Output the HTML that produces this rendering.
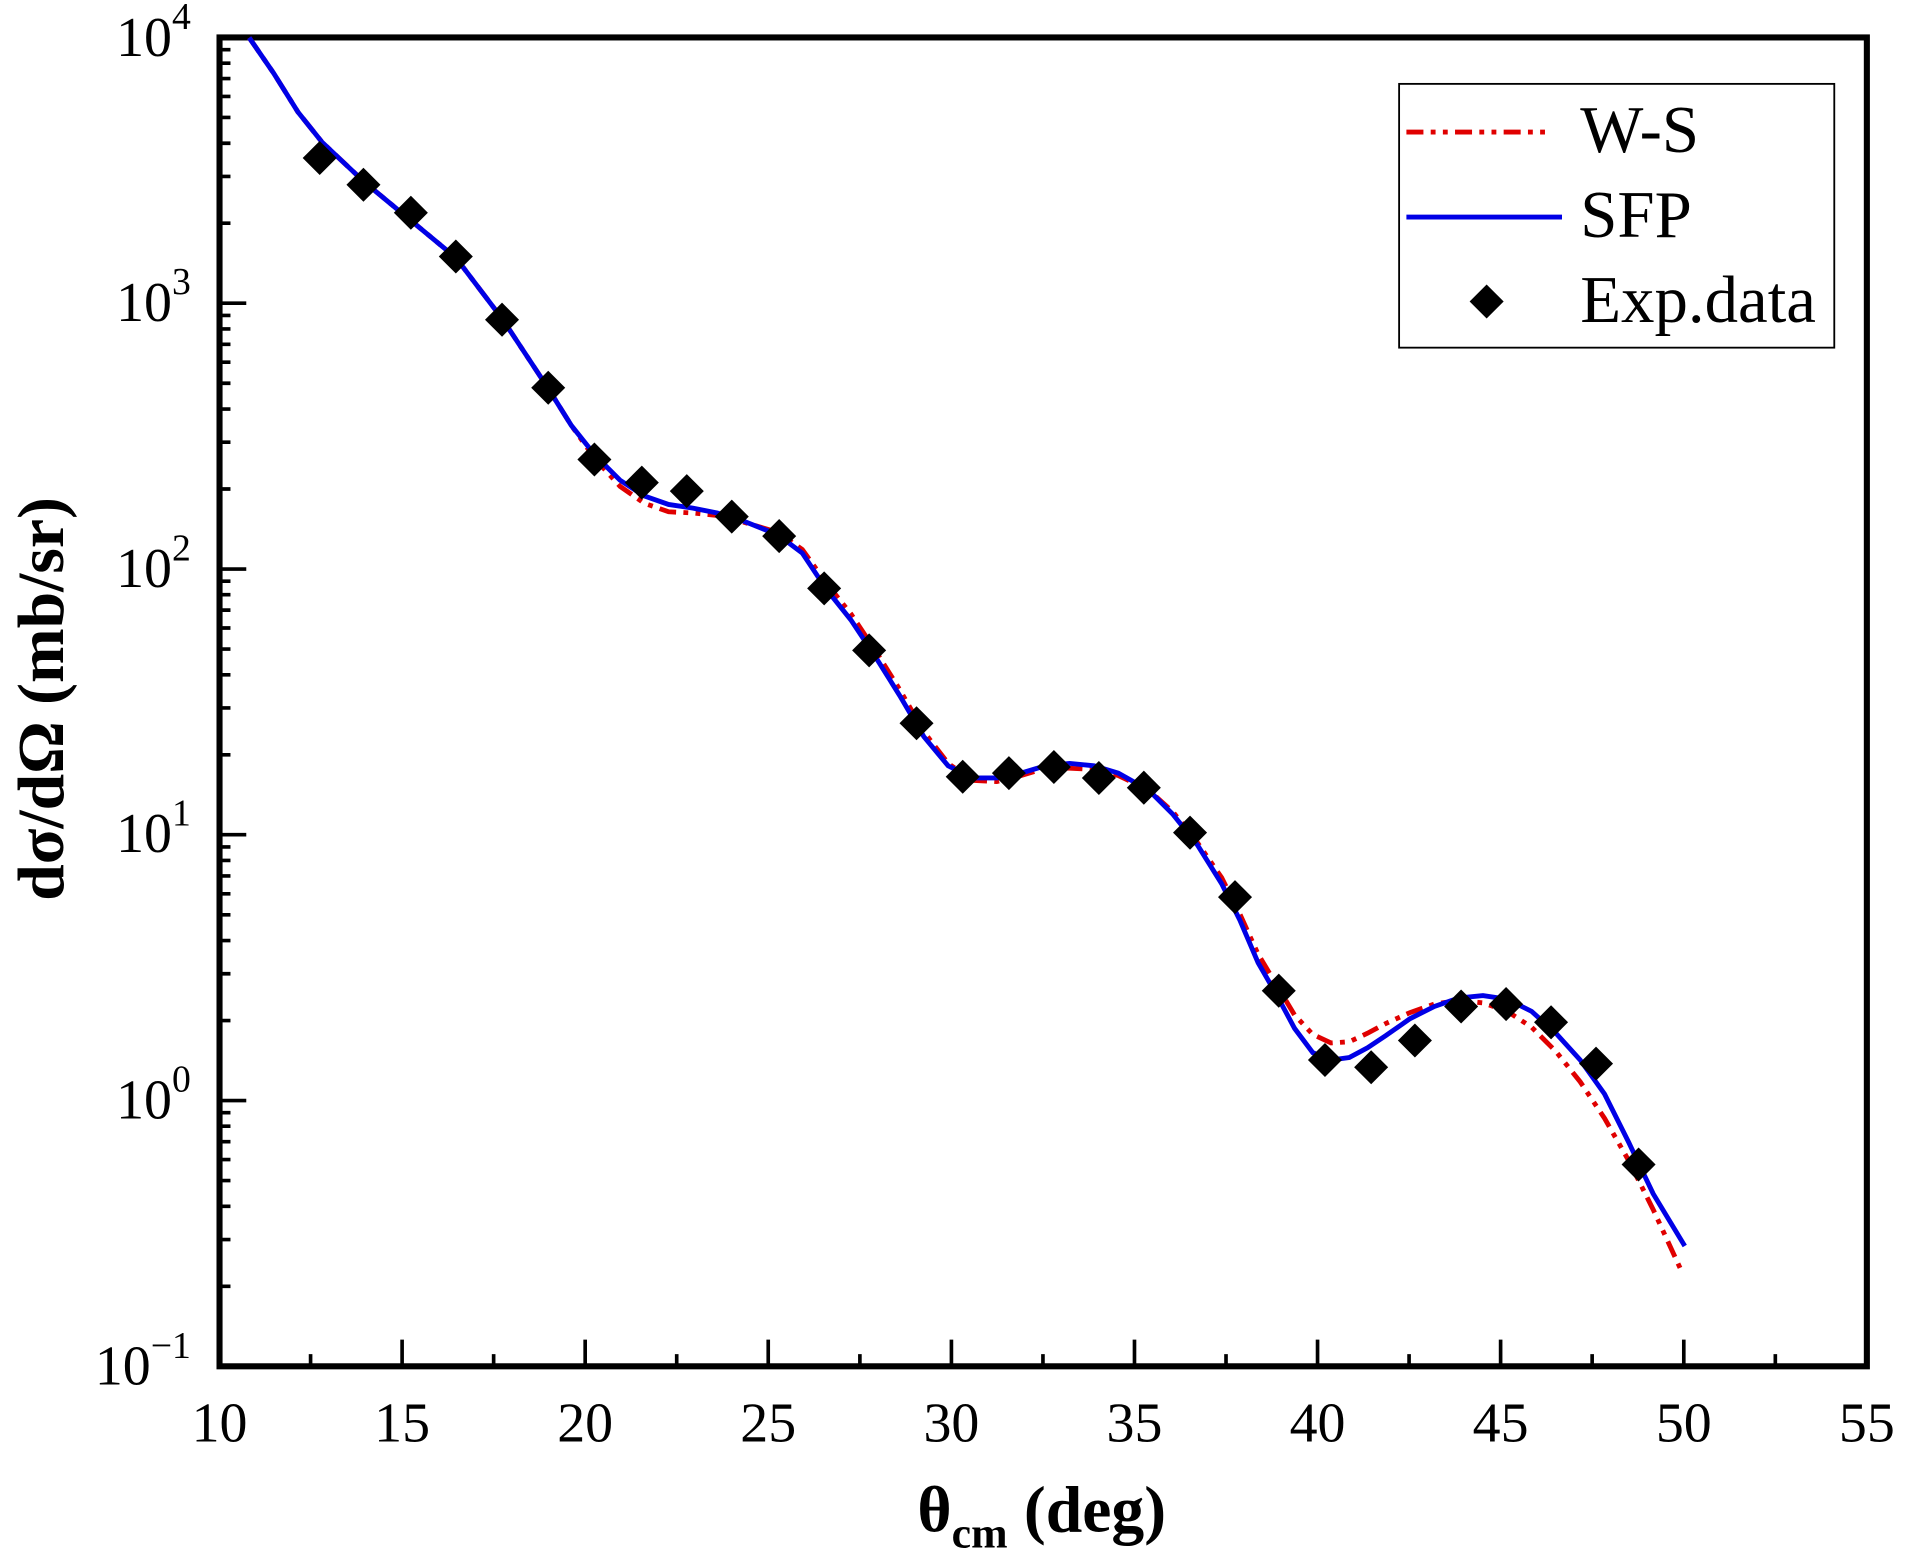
<!DOCTYPE html>
<html><head><style>html,body{margin:0;padding:0;background:#fff}svg{display:block}</style></head>
<body>
<svg width="1906" height="1567" viewBox="0 0 1568 1289.1" preserveAspectRatio="none" xmlns="http://www.w3.org/2000/svg" font-family="'Liberation Serif', serif">
<defs><path id="d" d="M0,-14 L14,0 L0,14 L-14,0 Z" fill="#000"/></defs>
<g stroke="#000" stroke-width="3">
<path d="M180.6,1124v-22M330.8,1124v-22M481.4,1124v-22M632,1124v-22M782.7,1124v-22M933.3,1124v-22M1083.9,1124v-22M1234.5,1124v-22M1385.2,1124v-22
M255.5,1124v-10M406.1,1124v-10M556.7,1124v-10M707.4,1124v-10M858,1124v-10M1008.6,1124v-10M1159.2,1124v-10M1309.8,1124v-10M1460.5,1124v-10"/>
<path d="M180.6,905.4h22M180.6,686.7h22M180.6,468.1h22M180.6,249.4h22"/>
<g id="minor">
<path d="M180.6,1058.2h9M180.6,1019.7h9M180.6,992.4h9M180.6,971.2h9M180.6,953.9h9M180.6,939.2h9M180.6,926.5h9M180.6,915.4h9"/>
</g>
<use href="#minor" y="-218.64"/><use href="#minor" y="-437.28"/><use href="#minor" y="-655.92"/><use href="#minor" y="-874.56"/>
</g>
<rect x="180.6" y="30.8" width="1355.2" height="1093.2" fill="none" stroke="#000" stroke-width="5"/>
<polyline fill="none" stroke="#e00000" stroke-width="4" stroke-dasharray="14,6,4,6,4,6" points="205,31 225,60 245,92 265,117 300,150 340,183 375,212 413,262 450,318 470,350 490,378 510,400 530,414 550,421 570,422 590,424 610,429 640,438 660,452 680,480 700,505 720,535 740,567 760,602 780,628 800,642 820,643 840,638 860,632 880,632 900,633 920,638 945,650 965,668 985,693 1005,722 1020,752 1035,785 1050,810 1065,835 1080,851 1095,858 1110,857 1125,850 1140,842 1160,833 1180,826 1200,823 1220,825 1240,832 1260,845 1280,865 1300,890 1320,920 1340,955 1360,995 1383,1045"/>
<polyline fill="none" stroke="#0000e6" stroke-width="4" points="205,31 225,60 245,92 265,117 300,150 340,183 375,212 413,262 450,318 470,350 490,375 510,395 530,408 550,415 570,418 590,422 610,428 640,440 660,455 680,485 700,510 720,540 740,572 760,606 780,630 800,640 820,640 840,636 860,630 880,628 900,630 920,636 945,650 965,670 985,695 1005,727 1020,757 1035,792 1050,818 1065,846 1080,866 1095,872 1110,870 1125,862 1140,852 1160,838 1180,828 1200,821 1220,819 1240,822 1260,832 1280,850 1300,872 1320,900 1340,940 1360,982 1386,1025"/>
<g>
<use href="#d" x="263" y="130"/><use href="#d" x="299" y="152"/><use href="#d" x="338" y="175"/><use href="#d" x="375" y="211"/><use href="#d" x="413" y="263"/><use href="#d" x="451" y="319"/><use href="#d" x="489" y="378"/><use href="#d" x="528" y="397"/><use href="#d" x="565" y="404"/><use href="#d" x="602" y="425"/><use href="#d" x="641" y="441"/><use href="#d" x="678" y="484"/><use href="#d" x="715" y="535"/><use href="#d" x="754" y="595"/><use href="#d" x="792" y="639"/><use href="#d" x="830" y="636"/><use href="#d" x="867" y="631"/><use href="#d" x="904" y="640"/><use href="#d" x="941" y="648"/><use href="#d" x="979" y="685"/><use href="#d" x="1016" y="738"/><use href="#d" x="1052" y="815"/><use href="#d" x="1090" y="872"/><use href="#d" x="1128" y="878"/><use href="#d" x="1164" y="856"/><use href="#d" x="1202" y="828"/><use href="#d" x="1239" y="826"/><use href="#d" x="1276" y="841"/><use href="#d" x="1313" y="875"/><use href="#d" x="1348" y="958"/>
</g>
<g font-size="46" text-anchor="middle">
<text x="180.6" y="1186">10</text><text x="330.8" y="1186">15</text><text x="481.4" y="1186">20</text><text x="632" y="1186">25</text><text x="782.7" y="1186">30</text><text x="933.3" y="1186">35</text><text x="1083.9" y="1186">40</text><text x="1234.5" y="1186">45</text><text x="1385.2" y="1186">50</text><text x="1535.8" y="1186">55</text>
</g>
<g font-size="46" text-anchor="end">
<text x="157" y="46">10<tspan dy="-22" font-size="31">4</tspan></text>
<text x="157" y="264">10<tspan dy="-22" font-size="31">3</tspan></text>
<text x="157" y="483">10<tspan dy="-22" font-size="31">2</tspan></text>
<text x="157" y="701">10<tspan dy="-22" font-size="31">1</tspan></text>
<text x="157" y="920">10<tspan dy="-22" font-size="31">0</tspan></text>
<text x="157" y="1139">10<tspan dy="-22" font-size="31">−1</tspan></text>
</g>
<text x="857" y="1260" font-size="54" font-weight="bold" text-anchor="middle">θ<tspan font-size="36" dy="13">cm</tspan><tspan dy="-13"> (deg)</tspan></text>
<text transform="translate(52,575) rotate(-90)" font-size="54" font-weight="bold" text-anchor="middle">dσ/dΩ (mb/sr)</text>
<rect x="1151" y="69" width="358" height="217" fill="#fff" stroke="#000" stroke-width="1.5"/>
<line x1="1157" y1="108.6" x2="1274" y2="108.6" stroke="#e00000" stroke-width="4" stroke-dasharray="14,6,4,6,4,6"/>
<line x1="1157" y1="178.6" x2="1285" y2="178.6" stroke="#0000e6" stroke-width="4"/>
<use href="#d" x="1223" y="248"/>
<g font-size="55"><text x="1300" y="125">W-S</text><text x="1300" y="195">SFP</text><text x="1300" y="265">Exp.data</text></g>
</svg>
</body></html>
